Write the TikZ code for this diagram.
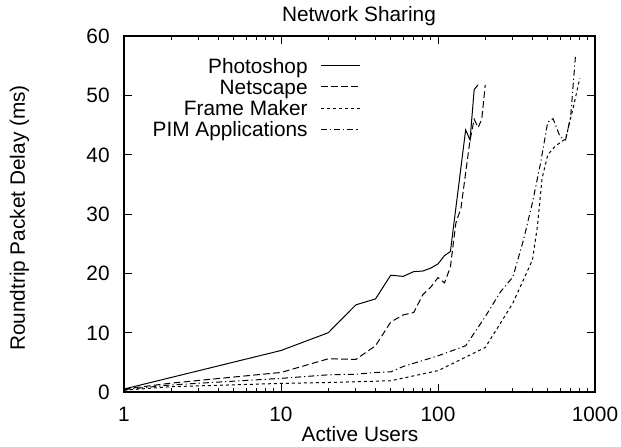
\documentclass[tikz,border=0pt]{standalone}
\usepackage{fontspec}
\setmainfont{Liberation Sans}
\begin{document}
\begin{tikzpicture}[x=0.5pt,y=-0.5pt,
  lbl/.style={font=\fontsize{10.4pt}{12pt}\selectfont, inner sep=0pt},
  frame/.style={line width=0.75pt},
  tick/.style={line width=0.5pt},
  curve/.style={line width=0.5pt, line join=miter},
  ps/.style={curve},
  ns/.style={curve, dash pattern=on 3.3pt off 1.7pt},
  fm/.style={curve, dash pattern=on 1.5pt off 1.5pt},
  pim/.style={curve, dash pattern=on 3pt off 1.5pt on 0.6pt off 1.5pt}]
\useasboundingbox (0,0) rectangle (621,446);
% title and axis labels
\node[lbl, anchor=base] (title) at (359,21.7) {Network Sharing};
\node[lbl, anchor=base] (xlab) at (360,441.7) {Active Users};
\node[lbl, rotate=90, anchor=base] (ylab) at (25,218) {Roundtrip Packet Delay (ms)};
% y ticks and labels
\foreach \v in {0,10,...,60} {
  \draw[tick] (124,{392-5.933*\v}) -- ++(8,0);
  \draw[tick] (595,{392-5.933*\v}) -- ++(-8,0);
  \node[lbl, anchor=base east] (yt\v) at (110,{392-5.933*\v+7.4}) {\v};
}
% x ticks and labels
\foreach \d/\t in {0/1,1/10,2/100,3/1000} {
  \draw[tick] ({124+157*\d},392) -- ++(0,-8);
  \draw[tick] ({124+157*\d},36) -- ++(0,8);
  \node[lbl, anchor=base] (xt\t) at ({124+157*\d},421.7) {\t};
}
\foreach \d in {0,1,2} {
  \foreach \k in {2,...,9} {
    \draw[tick] ({124+157*(\d+log10(\k))},392) -- ++(0,-4);
    \draw[tick] ({124+157*(\d+log10(\k))},36) -- ++(0,4);
  }
}
% frame
\draw[frame] (124,36) rectangle (595,392);
% legend
\node[lbl, anchor=base east] (lps) at (308,73.1) {Photoshop};
\node[lbl, anchor=base east] (lns) at (308,94.3) {Netscape};
\node[lbl, anchor=base east] (lfm) at (308,115.5) {Frame Maker};
\node[lbl, anchor=base east] (lpim) at (308,136.7) {PIM Applications};
\draw[ps] (321,65.7) -- (360,65.7);
\draw[ns] (321,86.9) -- (360,86.9);
\draw[fm] (321,108.1) -- (360,108.1);
\draw[pim] (321,129.3) -- (360,129.3);
% data
\begin{scope}[shift={(62pt,-196pt)}, x=78.5pt, y=2.965pt]
\draw[ps] (0,0.5) -- ({log10(10)},7) -- ({log10(20)},10) -- ({log10(30)},14.7)
  -- ({log10(40)},15.7) -- ({log10(50)},19.7) -- ({log10(60)},19.5)
  -- ({log10(70)},20.3) -- ({log10(80)},20.4) -- ({log10(90)},20.9)
  -- ({log10(100)},21.6) -- ({log10(110)},23) -- ({log10(120)},23.7)
  -- ({log10(150)},44.2) -- ({log10(160)},42.5) -- ({log10(170)},51)
  -- ({log10(180)},51.8);
\draw[ns] (0,0.5) -- ({log10(2)},1.5) -- ({log10(10)},3.3) -- ({log10(20)},5.6)
  -- ({log10(30)},5.5) -- ({log10(40)},7.8) -- ({log10(50)},11.8)
  -- ({log10(60)},13) -- ({log10(70)},13.4) -- ({log10(80)},16.4)
  -- ({log10(90)},17.7) -- ({log10(100)},19.3) -- ({log10(110)},18.4)
  -- ({log10(120)},21.1) -- ({log10(130)},28.5) -- ({log10(140)},31)
  -- ({log10(160)},42.5) -- ({log10(170)},46) -- ({log10(180)},44.6)
  -- ({log10(190)},46) -- ({log10(200)},51.8);
\draw[fm] (0,0.3) -- ({log10(2)},0.9) -- ({log10(10)},1.45) -- ({log10(20)},1.6)
  -- ({log10(50)},1.9) -- ({log10(100)},3.6) -- ({log10(200)},7.5)
  -- ({log10(300)},15) -- ({log10(400)},22.3) -- ({log10(430)},28)
  -- ({log10(460)},36) -- ({log10(500)},40) -- ({log10(560)},41.5)
  -- ({log10(650)},42.7) -- ({log10(720)},47.5) -- ({log10(800)},52.9);
\draw[pim] (0,0.4) -- ({log10(2)},1.2) -- ({log10(10)},2.3) -- ({log10(20)},2.9)
  -- ({log10(30)},3.0) -- ({log10(40)},3.3) -- ({log10(50)},3.4)
  -- ({log10(60)},4.3) -- ({log10(100)},6.1) -- ({log10(150)},7.8)
  -- ({log10(200)},12.7) -- ({log10(250)},16.9) -- ({log10(300)},19.4)
  -- ({log10(350)},25.6) -- ({log10(400)},32) -- ({log10(450)},38.6)
  -- ({log10(500)},45.5) -- ({log10(540)},46.1) -- ({log10(600)},43)
  -- ({log10(650)},42.5) -- ({log10(700)},46.5) -- ({log10(750)},56.5);
\end{scope}
\end{tikzpicture}
\end{document}
